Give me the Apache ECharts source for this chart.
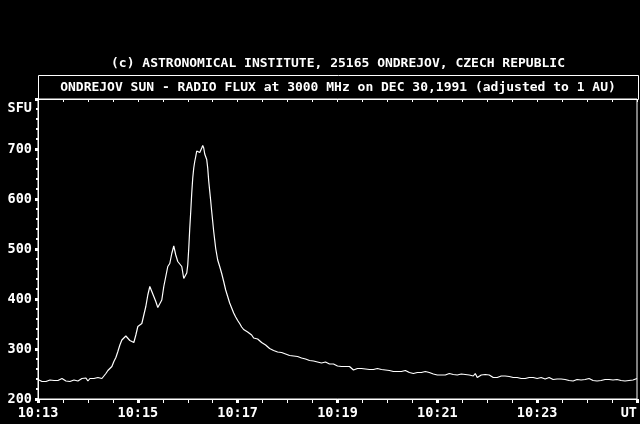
<!DOCTYPE html>
<html>
<head>
<meta charset="utf-8">
<script src="https://cdn.jsdelivr.net/npm/echarts@6/dist/echarts.min.js"></script>
<style>html,body{margin:0;padding:0;background:#000;}#c{width:640px;height:424px;}</style>
</head>
<body>
<div id="c"></div>
<script>
// Time in seconds after 10:13:00 UT
const timeSec = [0,2.4,4.8,7.2,9.6,12,14.4,16.8,19.2,21.6,24,26.4,28.8,31.2,33.6,36,38.4,40.8,43.2,45.6,48,50.4,52.8,55.2,57.6,60,62.4,64.8,67.2,69.6,72,74.4,76.8,79.2,81.6,84,86.4,88.8,91.2,93.6,96,98.4,100.8,103.2,105.6,108,110.4,112.8,115.2,117.6,120,122.4,124.8,127.2,129.6,132,134.4,136.8,139.2,141.6,144,146.4,148.8,151.2,153.6,156,158.4,160.8,163.2,165.6,168,170.4,172.8,175.2,177.6,178.8,180,181.2,182.4,183.6,184.8,186,187.2,188.4,189.6,190.8,192,193.2,194.4,195.6,196.8,198,199.2,200.4,201.6,202.8,204,205.2,206.4,207.6,208.8,210,211.2,212.4,213.6,216,218.4,220.8,223.2,225.6,228,230.4,232.8,235.2,237.6,240,242.4,244.8,247.2,249.6,252,254.4,256.8,259.2,261.6,264,266.4,268.8,271.2,273.6,276,278.4,280.8,283.2,285.6,288,290.4,292.8,295.2,297.6,300,302.4,304.8,307.2,309.6,312,314.4,316.8,319.2,321.6,324,326.4,328.8,331.2,333.6,336,338.4,340.8,343.2,345.6,348,350.4,352.8,355.2,357.6,360,362.4,364.8,367.2,369.6,372,374.4,376.8,379.2,381.6,384,386.4,388.8,391.2,393.6,396,398.4,400.8,403.2,405.6,408,410.4,412.8,415.2,417.6,420,422.4,424.8,427.2,429.6,432,434.4,436.8,439.2,441.6,444,446.4,448.8,451.2,453.6,456,458.4,460.8,463.2,465.6,468,470.4,472.8,475.2,477.6,480,482.4,484.8,487.2,489.6,492,494.4,496.8,499.2,501.6,504,506.4,508.8,511.2,513.6,516,518.4,520.8,523.2,525.6,528,530.4,532.8,535.2,537.6,540,542.4,544.8,547.2,549.6,552,554.4,556.8,559.2,561.6,564,566.4,568.8,571.2,573.6,576,578.4,580.8,583.2,585.6,588,590.4,592.8,595.2,597.6,600,602.4,604.8,607.2,609.6,612,614.4,616.8,619.2,621.6,624,626.4,628.8,631.2,633.6,636,638.4,640.8,643.2,645.6,648,650.4,652.8,655.2,657.6,660,662.4,664.8,667.2,669.6,672,674.4,676.8,679.2,681.6,684,686.4,688.8,691.2,693.6,696,698.4,700.8,703.2,705.6,708,710.4,712.8,715.2,717.6,720];
// Radio flux in SFU
const fluxSFU = [239,238,235,231,235,237,238,236,237,238,237,238,241,239,236,234,235,237,238,239,236,238,241,238,242,236,241,241,241,239,243,242,241,239,251,257,258,265,275,283,295,308,318,321,326,323,317,313,313,328,345,349,351,368,385,408,425,415,411,395,383,379,398,425,445,465,471,491,506,488,475,477,465,441,441,452,468,501,541,575,612,642,662,675,685,696,699,699,693,696,702,707,702,690,688,679,662,636,616,596,575,555,535,518,501,478,465,451,435,418,405,392,382,372,364,357,351,344,339,336,334,332,328,322,320,320,317,313,309,308,305,301,298,297,296,294,294,293,290,290,289,287,286,286,285,285,284,282,280,280,279,277,276,276,275,274,273,272,273,274,273,270,266,270,268,266,268,265,263,265,261,265,263,258,261,261,263,261,262,260,261,259,261,259,258,261,258,259,259,258,259,257,255,255,253,255,253,255,253,257,253,253,253,251,250,253,251,253,251,255,251,253,249,250,251,248,249,248,250,248,249,251,248,249,245,248,249,250,248,249,251,248,245,246,251,243,243,248,248,249,249,248,246,243,245,243,245,246,243,246,248,245,246,243,245,243,243,241,243,241,243,243,241,243,239,241,241,243,241,240,241,243,241,239,241,240,241,240,241,239,240,237,238,236,238,239,238,238,236,239,238,241,238,237,238,236,238,237,238,239,238,239,239,238,238,239,238,237,238,236,238,237,235,238,239,241];
const yTicks = [200,300,400,500,600,700];
const headerText = '(c) ASTRONOMICAL INSTITUTE, 25165 ONDREJOV, CZECH REPUBLIC';
const titleText = 'ONDREJOV SUN - RADIO FLUX at 3000 MHz on DEC 30,1991 (adjusted to 1 AU)';

const FONT = 'bold 13px "DejaVu Sans Mono", "Liberation Mono", monospace';
const chart = echarts.init(document.getElementById('c'), null, {renderer: 'canvas'});
const data = timeSec.map((t, i) => [t, fluxSFU[i]]);
function fmtTime(v) {
  if (v >= 720) return 'UT';
  const m = 13 + Math.round(v / 60);
  return '10:' + String(m).padStart(2, '0');
}
const labelFont = {color: '#fff', fontFamily: '"DejaVu Sans Mono", monospace', fontSize: 13.5, fontWeight: 'bold'};
chart.setOption({
  backgroundColor: '#000',
  animation: false,
  grid: {left: 38, top: 99, width: 600, height: 300, show: true, borderColor: '#fff', borderWidth: 1, backgroundColor: 'transparent'},
  xAxis: [{
    type: 'value', min: 0, max: 720, interval: 120, position: 'bottom',
    axisLine: {show: true, lineStyle: {color: '#fff', width: 1}},
    axisTick: {show: true, inside: false, length: 4, lineStyle: {color: '#fff', width: 3}},
    minorTick: {show: true, splitNumber: 4, length: 4, lineStyle: {color: '#fff', width: 1}},
    splitLine: {show: false},
    axisLabel: Object.assign({margin: 7, formatter: fmtTime, alignMaxLabel: 'right'}, labelFont)
  }, {
    type: 'value', min: 0, max: 720, interval: 30, position: 'top',
    axisLine: {show: true, lineStyle: {color: '#fff', width: 1}},
    axisTick: {show: true, inside: true, length: 3, lineStyle: {color: '#fff', width: 1}},
    splitLine: {show: false},
    axisLabel: {show: false}
  }],
  yAxis: [{
    type: 'value', min: 200, max: 800, interval: 100,
    axisLine: {show: true, lineStyle: {color: '#fff', width: 1}},
    axisTick: {show: true, inside: false, length: 3, lineStyle: {color: '#fff', width: 3}},
    minorTick: {show: true, splitNumber: 5, length: 2, lineStyle: {color: '#fff', width: 2}},
    splitLine: {show: false},
    axisLabel: Object.assign({margin: 6, formatter: v => (yTicks.indexOf(v) >= 0 ? String(v) : '')}, labelFont)
  }],
  series: [{
    type: 'line', data: data, showSymbol: false, xAxisIndex: 0,
    lineStyle: {color: '#fff', width: 1.2}, itemStyle: {color: '#fff'}
  }],
  graphic: [
    {type: 'text', x: 338, y: 64, style: {text: headerText, fill: '#fff', font: FONT, align: 'center', verticalAlign: 'middle', textAlign: 'center', textVerticalAlign: 'middle'}},
    {type: 'rect', shape: {x: 38.5, y: 75.5, width: 600, height: 24}, style: {fill: 'none', stroke: '#fff', lineWidth: 1}},
    {type: 'text', x: 338, y: 88, style: {text: titleText, fill: '#fff', font: FONT, align: 'center', verticalAlign: 'middle', textAlign: 'center', textVerticalAlign: 'middle'}},
    {type: 'text', x: 32, y: 108, style: {text: 'SFU', fill: '#fff', font: 'bold 13.5px "DejaVu Sans Mono", monospace', align: 'right', verticalAlign: 'middle', textAlign: 'right', textVerticalAlign: 'middle'}}
  ]
});
</script>
</body>
</html>
